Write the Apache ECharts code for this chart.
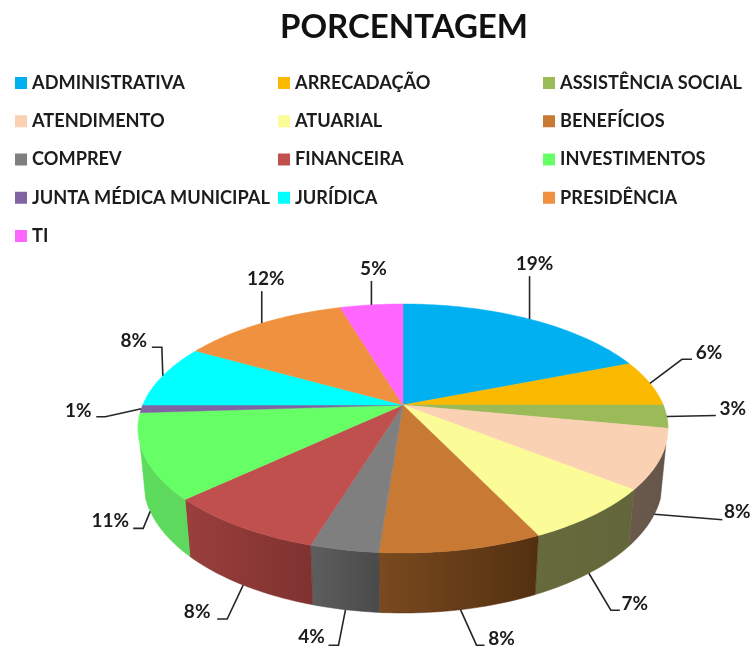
<!DOCTYPE html>
<html>
<head>
<meta charset="utf-8">
<title>PORCENTAGEM</title>
<script src="https://cdn.jsdelivr.net/npm/echarts@6/dist/echarts.min.js"></script>
<style>
  html, body { margin: 0; padding: 0; background: #fff; }
  #chart { width: 752px; height: 648px; }
</style>
</head>
<body>
<div id="chart"></div>
<script>
const categories = [
  'ADMINISTRATIVA', 'ARRECADAÇÃO', 'ASSISTÊNCIA SOCIAL',
  'ATENDIMENTO', 'ATUARIAL', 'BENEFÍCIOS',
  'COMPREV', 'FINANCEIRA', 'INVESTIMENTOS',
  'JUNTA MÉDICA MUNICIPAL', 'JURÍDICA', 'PRESIDÊNCIA',
  'TI'
]
const percents = [19, 6, 3, 7.7, 7.2, 8.3, 3.5, 8.3, 11, 1, 8.2, 12.2, 4.6]

const topColors = [
  '#00B0F0', '#FBBA00', '#9BBB59', '#FBD1B4', '#FBFB97', '#C87A35', '#7F7F7F',
  '#C0504D', '#66FF66', '#8064A2', '#00FFFF', '#F0913F', '#FF66FF'
]
// wall colours, left end and right end of each slice
const wallLeft = [
  '#000', '#000', '#000', '#6B5A4C', '#666A3C', '#7A4A20', '#5E5E5E',
  '#9A3F3C', '#5CDC5C', '#000', '#000', '#000', '#000'
]
const wallRight = [
  '#000', '#000', '#000', '#655548', '#62663A', '#52300F', '#4A4A4A',
  '#7E3230', '#5ED85E', '#000', '#000', '#000', '#000'
]

// leader bends and label centre, in px relative to the point on the rim
const leaderBends = [
  [[0, -43]], [[32, -24], [42, -24]], [[49, -1]], [[68, 5.5]],
  [[22, 37], [31, 37]], [[16, 35.5], [24, 35.5]], [[-7, 35.5], [-17, 35.5]],
  [[-16, 34], [-26, 34]], [[-7, 17], [-17, 17]], [[-36, 8], [-45, 8]],
  [[-1, -28.5], [-11, -28.5]], [[0, -32]], [[0, -24]]
]
const labelOffsets = [
  [5, -55], [59, -30], [66, -8], [83, -2.5], [46, 31], [41, 29.5], [-34, 27.5],
  [-46, 27], [-40, 10], [-63, 2], [-29, -34.5], [4, -44], [2, -36]
]

// perspective of the disc
const centerX = 403
const centerY = 405
const radiusX = 260.3
const radiusY = 120.06
const tilt = -0.1888
const wallDepth = 52.8
const wallShrink = 0.02
const wallFrom = 108
const wallTo = 252

const fontFamily = 'Lato, "Noto Sans", sans-serif'
const textColor = '#1c1c1c'

const rimPoint = (deg, lower) => {
  const rad = deg * Math.PI / 180
  const u = Math.sin(rad)
  const v = -Math.cos(rad)
  const w = 1 + tilt * v + (lower ? wallShrink : 0)
  return [
    centerX + radiusX * u / w,
    centerY + (radiusY * v + (lower ? wallDepth : 0)) / w
  ]
}

const arcPoints = (from, to, lower) => {
  const points = []
  const steps = Math.max(2, Math.ceil(to - from))
  for (let i = 0; i <= steps; i++) {
    points.push(rimPoint(from + (to - from) * i / steps, lower))
  }
  return points
}

const total = percents.reduce((a, b) => a + b, 0)
const startAngles = []
percents.reduce((sum, p, i) => {
  startAngles[i] = sum / total * 360
  return sum + p
}, 0)

const renderSlice = (index) => (params, api) => {
  const value = api.value(0)
  const from = startAngles[index]
  const to = from + value / total * 360
  const mid = (from + to) / 2
  const color = topColors[index]
  const children = []

  // side wall, only where it faces the viewer
  const wallStart = Math.max(from, wallFrom)
  const wallEnd = Math.min(to, wallTo)
  if (wallEnd > wallStart) {
    const upper = arcPoints(wallStart, wallEnd, false)
    const lower = arcPoints(wallStart, wallEnd, true).reverse()
    const fill = new echarts.graphic.LinearGradient(0, 0, 1, 0, [
      { offset: 0, color: wallLeft[index] },
      { offset: 1, color: wallRight[index] }
    ])
    children.push({
      type: 'polygon',
      z2: 1,
      shape: { points: upper.concat(lower) },
      style: { fill: fill, stroke: wallRight[index], lineWidth: 0.5 }
    })
  }

  // top of the slice
  children.push({
    type: 'polygon',
    z2: 2,
    shape: { points: [[centerX, centerY]].concat(arcPoints(from, to, false)) },
    style: { fill: color, stroke: color, lineWidth: 0.5 }
  })

  // leader and label
  const onWall = mid > wallFrom && mid < wallTo
  const start = rimPoint(mid, onWall)
  const line = [start].concat(leaderBends[index].map(b => [start[0] + b[0], start[1] + b[1]]))
  children.push({
    type: 'polyline',
    z2: 3,
    shape: { points: line },
    style: { fill: null, stroke: '#262626', lineWidth: 1.6 }
  })
  children.push({
    type: 'text',
    z2: 3,
    x: start[0] + labelOffsets[index][0],
    y: start[1] + labelOffsets[index][1],
    style: {
      text: Math.round(value) + '%',
      fill: textColor,
      font: 'bold 19px ' + fontFamily,
      align: 'center',
      verticalAlign: 'middle'
    }
  })
  return { type: 'group', children: children }
}

const legendConfig = {
  orient: 'vertical',
  top: 73,
  itemWidth: 12,
  itemHeight: 12,
  itemGap: 18.25,
  icon: 'rect',
  selectedMode: false,
  padding: 0,
  textStyle: {
    color: textColor,
    fontFamily: fontFamily,
    fontWeight: 'bold',
    fontSize: 18.2,
    lineHeight: 20
  }
}

const option = {
  animation: false,
  backgroundColor: '#fff',
  title: {
    text: 'PORCENTAGEM',
    left: 280,
    top: 11,
    padding: 0,
    textStyle: {
      color: '#111',
      fontFamily: fontFamily,
      fontWeight: 'bold',
      fontSize: 33
    }
  },
  legend: [
    { ...legendConfig, left: 15, data: categories.filter((c, i) => i % 3 === 0) },
    { ...legendConfig, left: 278, data: categories.filter((c, i) => i % 3 === 1) },
    { ...legendConfig, left: 543, data: categories.filter((c, i) => i % 3 === 2) }
  ],
  series: categories.map((name, i) => ({
    name: name,
    type: 'custom',
    coordinateSystem: 'none',
    silent: true,
    itemStyle: { color: topColors[i] },
    data: [[percents[i]]],
    renderItem: renderSlice(i)
  }))
}

const myChart = echarts.init(document.getElementById('chart'), null, { renderer: 'canvas' })
myChart.setOption(option)
</script>
</body>
</html>
